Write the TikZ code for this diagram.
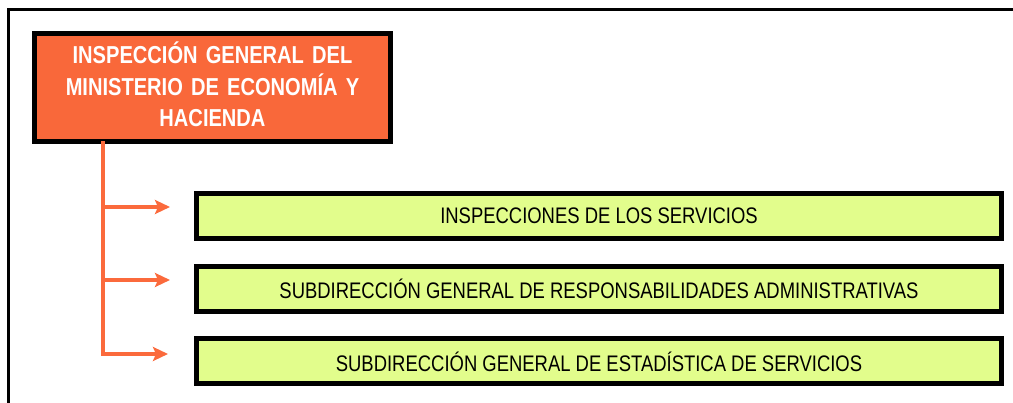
\documentclass[tikz,border=0pt]{standalone}
\usepackage{fontspec}
\setmainfont{Liberation Sans}[FakeStretch=0.82]
\usetikzlibrary{arrows.meta,calc}
\definecolor{orangebox}{HTML}{F9683A}
\definecolor{orangeline}{HTML}{FB6A3C}
\definecolor{greenbox}{HTML}{E2FD8C}
\begin{document}
\begin{tikzpicture}[x=1pt,y=-1pt,
  headbox/.style={draw=black,line width=5pt,fill=orangebox,inner sep=0pt,
    minimum width=356pt,minimum height=108pt},
  headtext/.style={inner sep=0pt,text width=340pt,align=center,
    text=white,font=\fontsize{24.5}{31.5}\selectfont\bfseries},
  subbox/.style={draw=black,line width=5pt,fill=greenbox,inner sep=0pt,
    minimum width=805pt,minimum height=45pt,
    font=\fontsize{22.5}{26}\selectfont},
  conn/.style={draw=orangeline,line width=4pt},
  arr/.style={conn,-{Stealth[length=15pt,width=14pt,inset=3pt]}}]
\useasboundingbox (0,0) rectangle (1013,403);
\draw[line width=3pt] (8.5,403) -- (8.5,9.5) -- (1013,9.5);
\node[headbox] (main) at (212.5,87.5) {};
\node[headtext] (maintext) at ($(main.center)+(0,-3)$) {INSPECCIÓN GENERAL DEL\\MINISTERIO DE ECONOMÍA Y\\HACIENDA};
\node[subbox] (b1) at (599,216) {INSPECCIONES DE LOS SERVICIOS};
\node[subbox] (b2) at (599,289) {SUBDIRECCIÓN GENERAL DE RESPONSABILIDADES ADMINISTRATIVAS};
\node[subbox] (b3) at (599,361.5) {SUBDIRECCIÓN GENERAL DE ESTADÍSTICA DE SERVICIOS};
\coordinate (top) at ($(main.south west)+(71,-2.5)$);
\coordinate (e1) at ($(b1.west)+(-24,-9)$);
\coordinate (e2) at ($(b2.west)+(-24,-9)$);
\coordinate (e3) at ($(b3.west)+(-26,-7.5)$);
\draw[conn] (top) -- (top |- e3);
\draw[arr] (top |- e1) -- (e1);
\draw[arr] (top |- e2) -- (e2);
\draw[arr] ([xshift=-2pt]top |- e3) -- (e3);
\end{tikzpicture}
\end{document}
